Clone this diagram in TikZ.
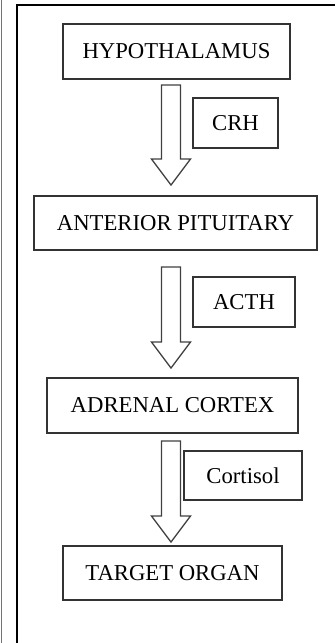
\documentclass[tikz,border=0pt]{standalone}
\usepackage{fontspec}
\setmainfont{Liberation Serif}
\usetikzlibrary{calc}

\tikzset{
  organ/.style={draw=black!80, line width=1.4pt, inner sep=0pt, font=\fontsize{22.7}{27}\selectfont},
  hormone/.style={organ},
  hollow/.style={draw=black!75, line width=1.3pt, fill=white, line join=miter}
}

\begin{document}
\begin{tikzpicture}[x=1pt,y=-1pt]
			\useasboundingbox (0,0) rectangle (335,643);
			\def\shaft{9.5pt}
			\def\headw{19.5pt}
			\def\headlen{26pt}
			
			% Outer frame (open on the right and bottom)
			\draw[black!55, line width=1pt] (1.5,0) -- (1.5,643);
			\draw[black, line width=1.4pt] (335,5) -- (17,5) -- (17,643);
			
			% Glands and target
			\node[organ, minimum width=227pt, minimum height=55pt] (hyp) at (176.5,51.5) {HYPOTHALAMUS};
			\node[organ, minimum width=283pt, minimum height=54pt] (ant) at (175.5,223) {ANTERIOR PITUITARY};
			\node[organ, minimum width=251pt, minimum height=55pt] (adr) at (172.5,405.5) {ADRENAL CORTEX};
			\node[organ, minimum width=219pt, minimum height=54pt] (tgt) at (172.5,573) {TARGET ORGAN};
			
			% Hormone labels
			\node[hormone, minimum width=85pt, minimum height=50pt] (crh) at (235.5,123) {CRH};
			\node[hormone, minimum width=102pt, minimum height=50pt] (acth) at (244,302) {ACTH};
			\node[hormone, minimum width=118pt, minimum height=49pt] (cort) at (243,475.5) {Cortisol};
			
			% Arrow ends
			\coordinate (top1) at (171,85);   \coordinate (tip1) at (171,185);
			\coordinate (top2) at (171,267);  \coordinate (tip2) at (171,368);
			\coordinate (top3) at (171,441);  \coordinate (tip3) at (171,542);
			
			% Hollow block arrows
			\foreach \k in {1,2,3}{
				\draw[hollow] let \p1=(top\k), \p2=(tip\k) in
					(\x1-\shaft,\y1) -- (\x1+\shaft,\y1) -- (\x1+\shaft,\y2+\headlen)
					-- (\x1+\headw,\y2+\headlen) -- (\x2,\y2) -- (\x1-\headw,\y2+\headlen)
					-- (\x1-\shaft,\y2+\headlen) -- cycle;
			}
		\end{tikzpicture}
\end{document}
